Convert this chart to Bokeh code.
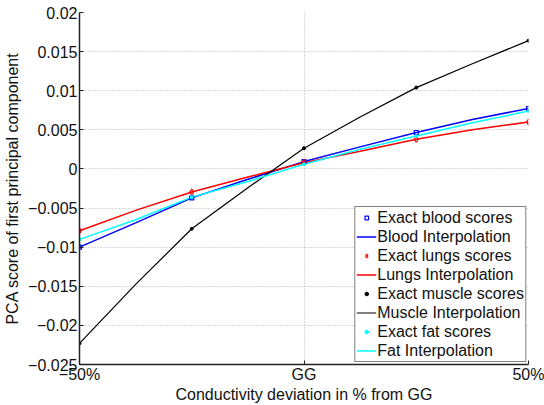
from bokeh.plotting import figure
from bokeh.models import FixedTicker, Range1d, Legend, LegendItem
from bokeh.embed import file_html
from bokeh.resources import INLINE

# Exact scores (x = conductivity deviation in %)
x_exact = [-50, -25, 0, 25, 50]
blood_exact = [-0.0100, -0.0037, 0.00094, 0.00466, 0.00773]
lungs_exact = [-0.0079, -0.00295, 0.0008, 0.0038, 0.0060]
muscle_exact = [-0.0223, -0.00765, 0.00265, 0.0104, 0.0164]
fat_exact = [-0.0090, -0.0036, 0.0006, 0.0042, 0.0074]

# Interpolation curves
x_interp = [-50, -37.5, -25, -12.5, 0, 12.5, 25, 37.5, 50]
blood_interp = [-0.0100, -0.0069, -0.0037, -0.00132, 0.00094, 0.00282, 0.00466, 0.00632, 0.00773]
lungs_interp = [-0.0079, -0.0053, -0.00295, -0.00103, 0.0008, 0.00225, 0.0038, 0.00500, 0.0060]
muscle_interp = [-0.0223, -0.01475, -0.00765, -0.00240, 0.00265, 0.00665, 0.0104, 0.01345, 0.0164]
fat_interp = [-0.0090, -0.0065, -0.0036, -0.00160, 0.0006, 0.00252, 0.0042, 0.00590, 0.0074]

x_ticks = [-50, 0, 50]
x_tick_labels = ["\u221250%", "GG", "50%"]
y_ticks = [-0.025, -0.02, -0.015, -0.01, -0.005, 0, 0.005, 0.01, 0.015, 0.02]
y_tick_labels = ["\u22120.025", "\u22120.02", "\u22120.015", "\u22120.01", "\u22120.005",
                 "0", "0.005", "0.01", "0.015", "0.02"]

FONT = "Liberation Sans"
FS = "16px"

p = figure(width=544, height=405, output_backend="svg", toolbar_location=None,
           x_range=Range1d(-50, 50), y_range=Range1d(-0.025, 0.02),
           min_border_left=79, min_border_right=16, min_border_top=12, min_border_bottom=41)
p.outline_line_color = None
p.background_fill_color = "white"
p.border_fill_color = "white"

for ax in (p.xaxis[0], p.yaxis[0]):
    ax.axis_line_color = "#222222"
    ax.axis_line_width = 1.5
    ax.major_tick_line_color = "#222222"
    ax.major_tick_in = 4
    ax.major_tick_out = 0
    ax.minor_tick_line_color = None
    ax.major_label_text_font = FONT
    ax.major_label_text_font_size = FS
    ax.major_label_text_color = "#111111"
    ax.axis_label_text_font = FONT
    ax.axis_label_text_font_size = FS
    ax.axis_label_text_font_style = "normal"
    ax.axis_label_text_color = "#111111"

p.xaxis.ticker = FixedTicker(ticks=x_ticks)
p.xaxis.major_label_overrides = {t: l for t, l in zip(x_ticks, x_tick_labels)}
p.yaxis.ticker = FixedTicker(ticks=y_ticks)
p.yaxis.major_label_overrides = {t: l for t, l in zip(y_ticks, y_tick_labels)}
p.xaxis.axis_label = "Conductivity deviation in % from GG"
p.yaxis.axis_label = "PCA score of first principal component"
p.xaxis.major_label_standoff = 1
p.xaxis.axis_label_standoff = 0
p.yaxis.major_label_standoff = 2
p.yaxis.axis_label_standoff = 4

for g in (p.xgrid[0], p.ygrid[0]):
    g.grid_line_color = "#b4b4b4"
    g.grid_line_dash = "1 2"
    g.grid_line_width = 1

# draw
lb = p.line(x_interp, blood_interp, line_color="#0000ff", line_width=1.5)
ll = p.line(x_interp, lungs_interp, line_color="#ff0000", line_width=1.5)
lm = p.line(x_interp, muscle_interp, line_color="#000000", line_width=1.2)
lf = p.line(x_interp, fat_interp, line_color="#00ffff", line_width=1.5)

sb = p.scatter(x_exact, blood_exact, marker="square", size=4, line_color="#0000ff",
               fill_color=None, line_width=1.2)
sl = p.scatter(x_exact, lungs_exact, marker="diamond", size=6, line_color="#ff0000",
               fill_color=None, line_width=1.2)
sm = p.scatter(x_exact, muscle_exact, marker="circle", size=3, line_color="#000000",
               fill_color="#000000")
sf = p.scatter(x_exact, fat_exact, marker="circle", size=3, line_color="#00ffff",
               fill_color="#00ffff")

legend = Legend(items=[
    LegendItem(label="Exact blood scores", renderers=[sb]),
    LegendItem(label="Blood Interpolation", renderers=[lb]),
    LegendItem(label="Exact lungs scores", renderers=[sl]),
    LegendItem(label="Lungs Interpolation", renderers=[ll]),
    LegendItem(label="Exact muscle scores", renderers=[sm]),
    LegendItem(label="Muscle Interpolation", renderers=[lm]),
    LegendItem(label="Exact fat scores", renderers=[sf]),
    LegendItem(label="Fat Interpolation", renderers=[lf]),
], location="bottom_right")
legend.margin = 2
legend.padding = 1
legend.spacing = 0
legend.glyph_width = 20
legend.glyph_height = 9
legend.label_height = 19
legend.label_standoff = 1
legend.label_text_font = FONT
legend.label_text_font_size = FS
legend.label_text_color = "#111111"
legend.border_line_color = "#000000"
legend.border_line_width = 1.5
legend.background_fill_color = "white"
legend.background_fill_alpha = 1
p.add_layout(legend, "center")

open("out.html", "w").write(file_html(p, INLINE))
